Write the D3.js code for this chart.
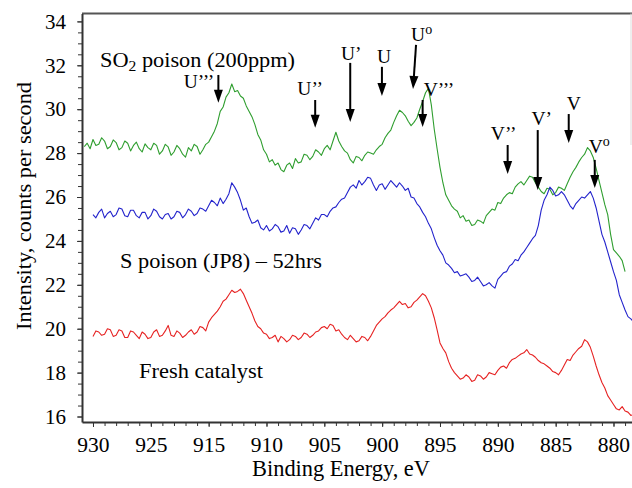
<!DOCTYPE html>
<html>
<head>
<meta charset="utf-8">
<script src="https://cdn.jsdelivr.net/npm/d3@7"></script>
<style>
  body { margin: 0; background: #fff; }
</style>
</head>
<body>
<div id="chart"></div>
<script>
const FONT = 'Liberation Serif, DejaVu Serif, serif';

// binding energy grid (eV, as plotted), 8 points per line = 2 eV
const energy = [
  926.0, 925.75, 925.5, 925.25, 925.0, 924.75, 924.5, 924.25,
  924.0, 923.75, 923.5, 923.25, 923.0, 922.75, 922.5, 922.25,
  922.0, 921.75, 921.5, 921.25, 921.0, 920.75, 920.5, 920.25,
  920.0, 919.75, 919.5, 919.25, 919.0, 918.75, 918.5, 918.25,
  918.0, 917.75, 917.5, 917.25, 917.0, 916.75, 916.5, 916.25,
  916.0, 915.75, 915.5, 915.25, 915.0, 914.75, 914.5, 914.25,
  914.0, 913.75, 913.5, 913.25, 913.0, 912.75, 912.5, 912.25,
  912.0, 911.75, 911.5, 911.25, 911.0, 910.75, 910.5, 910.25,
  910.0, 909.75, 909.5, 909.25, 909.0, 908.75, 908.5, 908.25,
  908.0, 907.75, 907.5, 907.25, 907.0, 906.75, 906.5, 906.25,
  906.0, 905.75, 905.5, 905.25, 905.0, 904.75, 904.5, 904.25,
  904.0, 903.75, 903.5, 903.25, 903.0, 902.75, 902.5, 902.25,
  902.0, 901.75, 901.5, 901.25, 901.0, 900.75, 900.5, 900.25,
  900.0, 899.75, 899.5, 899.25, 899.0, 898.75, 898.5, 898.25,
  898.0, 897.75, 897.5, 897.25, 897.0, 896.75, 896.5, 896.25,
  896.0, 895.75, 895.5, 895.25, 895.0, 894.75, 894.5, 894.25,
  894.0, 893.75, 893.5, 893.25, 893.0, 892.75, 892.5, 892.25,
  892.0, 891.75, 891.5, 891.25, 891.0, 890.75, 890.5, 890.25,
  890.0, 889.75, 889.5, 889.25, 889.0, 888.75, 888.5, 888.25,
  888.0, 887.75, 887.5, 887.25, 887.0, 886.75, 886.5, 886.25,
  886.0, 885.75, 885.5, 885.25, 885.0, 884.75, 884.5, 884.25,
  884.0, 883.75, 883.5, 883.25, 883.0, 882.75, 882.5, 882.25,
  882.0, 881.75, 881.5, 881.25, 881.0, 880.75, 880.5, 880.25,
  880.0, 879.75, 879.5, 879.25, 879.0, 878.75, 878.5, 878.25];

// SO2 poison (200ppm)
const so2Poison = [
  null, 28.30, 28.45, 28.20, 28.62, 28.35, 28.40, 28.70,
  28.55, 28.20, 28.30, 28.60, 28.48, 28.15, 28.25, 28.55,
  28.45, 28.10, 28.35, 28.50, 28.20, 28.05, 28.42, 28.25,
  28.15, 28.45, 28.35, 27.95, 28.10, 28.40, 28.28, 27.90,
  28.05, 28.35, 28.20, 27.95, 27.82, 28.25, 28.10, 28.40,
  28.30, 27.95, 28.15, 28.40, 28.50, 28.75, 29.00, 29.35,
  29.90, 30.10, 30.55, 30.75, 31.15, 30.80, 30.85, 30.60,
  30.50, 30.15, 29.90, 29.65, 29.30, 28.85, 28.60, 28.15,
  27.95, 27.60, 27.70, 27.45, 27.55, 27.25, 27.15, 27.45,
  27.55, 27.30, 27.75, 27.55, 27.60, 27.95, 27.90, 27.70,
  27.85, 28.15, 28.05, 27.90, 28.20, 28.35, 28.15, 28.55,
  28.95, 28.55, 28.30, 28.10, 28.00, 27.70, 27.55, 27.85,
  27.80, 27.65, 27.90, 28.05, 28.00, 27.95, 28.15, 28.30,
  28.40, 28.70, 28.90, 29.05, 29.40, 29.70, 29.95, 29.85,
  29.70, 29.45, 29.25, 29.40, 29.60, 30.00, 30.35, 30.75,
  30.95, 30.20, 29.10, 28.20, 27.35, 26.65, 26.10, 25.85,
  25.60, 25.45, 25.35, 25.05, 25.15, 24.90, 24.95, 24.70,
  24.75, 24.95, 24.90, 24.80, 25.15, 25.30, 25.45, 25.40,
  25.75, 25.70, 25.95, 26.10, 26.20, 26.15, 26.45, 26.60,
  26.70, 26.55, 26.75, 26.95, 26.90, 26.65, 26.45, 26.25,
  26.15, 26.40, 26.35, 26.10, 26.20, 26.45, 26.40, 26.30,
  26.60, 26.90, 27.15, 27.35, 27.60, 27.80, 27.95, 28.25,
  28.10, 27.80, 27.30, 26.75, 26.20, 25.65, 25.20, 24.30,
  23.60, 23.45, 23.30, 23.10, 22.60, null, null, null];

// S poison (JP8) - 52hrs
const sPoison = [
  null, null, null, null, 25.20, 25.05, 25.30, 25.45,
  25.05, 25.25, 25.35, 25.10, 25.20, 25.50, 25.45, 25.15,
  25.10, 25.40, 25.40, 25.15, 25.05, 25.30, 25.30, 25.00,
  25.15, 25.45, 25.35, 25.10, 25.00, 25.20, 25.25, 25.00,
  25.10, 25.35, 25.30, 25.05, 25.20, 25.45, 25.35, 25.15,
  25.25, 25.50, 25.45, 25.35, 25.60, 25.85, 25.75, 25.60,
  25.95, 25.70, 25.90, 26.15, 26.65, 26.45, 26.20, 25.85,
  25.40, 25.50, 25.10, 24.80, 24.85, 24.95, 24.60, 24.50,
  24.70, 24.45, 24.55, 24.75, 24.65, 24.40, 24.45, 24.70,
  24.35, 24.60, 24.55, 24.30, 24.50, 24.75, 24.70, 24.55,
  24.80, 25.05, 24.95, 25.20, 25.20, 25.10, 25.35, 25.50,
  25.55, 25.75, 25.90, 25.95, 26.20, 26.45, 26.55, 26.40,
  26.75, 26.55, 26.70, 26.90, 26.85, 26.55, 26.30, 26.55,
  26.60, 26.35, 26.55, 26.75, 26.60, 26.45, 26.65, 26.50,
  26.30, 26.40, 26.00, 25.95, 25.70, 25.55, 25.30, 25.10,
  24.80, 24.55, 24.15, 23.80, 23.55, 23.35, 23.00, 22.90,
  22.75, 22.55, 22.60, 22.40, 22.45, 22.50, 22.35, 22.15,
  22.20, 22.35, 22.15, 21.95, 22.00, 22.10, 21.95, 21.85,
  22.25, 22.40, 22.55, 22.60, 22.85, 22.95, 23.15, 23.10,
  23.35, 23.50, 23.70, 23.90, 24.10, 24.25, 24.70, 25.40,
  25.85, 26.10, 26.45, 26.30, 26.05, 26.10, 26.25, 26.10,
  25.85, 25.60, 25.45, 25.70, 25.85, 26.00, 25.95, 26.10,
  26.25, 25.95, 25.50, 24.90, 24.30, 23.95, 23.50, 23.05,
  22.60, 22.20, 21.55, 21.20, 20.85, 20.55, 20.45, 20.30];

// Fresh catalyst
const freshCatalyst = [
  null, null, null, null, 19.65, 19.90, 19.85, 19.70,
  19.75, 20.00, 19.95, 19.65, 19.70, 19.95, 19.90, 19.60,
  19.60, 19.90, 19.85, 19.70, 19.55, 19.85, 19.75, 19.55,
  19.60, 19.85, 19.95, 19.65, 19.70, 19.90, 20.15, 19.70,
  19.65, 19.90, 19.80, 19.60, 19.70, 19.85, 19.95, 19.75,
  19.85, 20.10, 20.05, 19.90, 20.30, 20.50, 20.65, 20.80,
  21.00, 21.25, 21.35, 21.55, 21.75, 21.65, 21.70, 21.80,
  21.60, 21.30, 21.00, 20.70, 20.35, 20.10, 20.00, 19.80,
  19.75, 19.55, 19.60, 19.70, 19.40, 19.65, 19.55, 19.40,
  19.50, 19.70, 19.65, 19.50, 19.60, 19.80, 19.75, 19.60,
  19.70, 19.85, 19.90, 20.05, 20.10, 20.00, 20.20, 20.15,
  19.90, 19.95, 19.75, 19.60, 19.50, 19.70, 19.55, 19.40,
  19.45, 19.65, 19.60, 19.45, 19.65, 19.90, 20.15, 20.30,
  20.45, 20.55, 20.72, 20.85, 20.95, 21.10, 21.25, 21.10,
  21.15, 20.95, 21.00, 21.20, 21.30, 21.45, 21.60, 21.50,
  21.25, 20.95, 20.50, 19.95, 19.35, 19.10, 18.90, 18.50,
  18.20, 18.00, 17.85, 17.70, 17.75, 17.90, 17.80, 17.60,
  17.65, 17.90, 17.85, 17.70, 17.80, 18.00, 17.95, 17.90,
  18.10, 18.25, 18.30, 18.20, 18.45, 18.60, 18.65, 18.75,
  18.85, 18.90, 19.05, 18.85, 18.80, 18.70, 18.55, 18.45,
  18.40, 18.30, 18.20, 18.05, 18.00, 17.90, 18.10, 18.35,
  18.60, 18.55, 18.80, 18.95, 19.10, 19.20, 19.50, 19.40,
  19.15, 18.75, 18.30, 17.90, 17.55, 17.30, 16.95, 16.75,
  16.55, 16.35, 16.30, 16.45, 16.25, 16.20, 16.05, 16.10];

// axis ticks (labels as printed on the original figure)
const xTickValues = [925, 920, 915, 910, 905, 900, 895, 890, 885, 880];
const xTickLabels = ['930', '925', '915', '910', '905', '900', '895', '890', '885', '880'];
const yTickValues = [16, 18, 20, 22, 24, 26, 28, 30, 32, 34];

// peak assignments: label, energy of arrow, arrow top / tip intensity
const peakLabels = ['U’’’', 'U’’', 'U’', 'U', 'U', 'V’’’', 'V’’', 'V’', 'V', 'V'];
const peakSup = ['', '', '', '', 'o', '', '', '', '', 'o'];
const peakTopEnergy = [914.16, 905.79, 902.76, 900.02, 897.07, 896.50, 889.15, 886.55, 883.87, 881.62];
const peakTipEnergy = [914.16, 905.79, 902.76, 900.02, 897.33, 896.50, 889.15, 886.55, 883.87, 881.62];
const peakTop = [31.56, 30.42, 32.11, 31.93, 32.93, 30.42, 28.37, 29.05, 29.78, 27.69];
const peakTip = [30.29, 29.15, 29.42, 30.60, 30.92, 29.19, 27.05, 26.32, 28.46, 26.41];

const width = 632, height = 488;
const svg = d3.select('#chart').append('svg')
  .attr('width', width)
  .attr('height', height)
  .attr('font-family', FONT);

const x = d3.scaleLinear().domain([925.95, 878.4]).range([82, 632]);
const y = d3.scaleLinear().domain([15.75, 34.36]).range([422, 13.5]);

// frame (top edge, faint right edge as in the scan)
svg.append('line')
  .attr('x1', 82).attr('x2', 632).attr('y1', 13.5).attr('y2', 13.5)
  .attr('stroke', '#555').attr('stroke-width', 2);
svg.append('line')
  .attr('x1', 631).attr('x2', 631).attr('y1', 13.5).attr('y2', 145)
  .attr('stroke', '#ddd').attr('stroke-width', 1);

// x axis: minor then major
const xMinor = d3.range(926, 878, -1).filter(d => d <= 925.95 && d >= 878.4);
svg.append('g')
  .attr('transform', 'translate(0,422)')
  .call(d3.axisBottom(x).tickValues(xMinor).tickSize(4).tickSizeOuter(0).tickFormat(''))
  .call(g => g.select('.domain').attr('stroke', '#333').attr('stroke-width', 2));
svg.append('g')
  .attr('transform', 'translate(0,422)')
  .call(d3.axisBottom(x).tickValues(xTickValues).tickSize(5).tickPadding(10)
    .tickFormat((d, i) => xTickLabels[i]))
  .call(g => g.select('.domain').remove())
  .call(g => g.selectAll('text').style('font-size', '21.5px'));

// y axis
const yMinor = d3.range(16, 34.5, 0.5);
svg.append('g')
  .attr('transform', 'translate(82,0)')
  .call(d3.axisLeft(y).tickValues(yMinor).tickSize(4).tickSizeOuter(0).tickFormat(''))
  .call(g => g.select('.domain').attr('stroke', '#333').attr('stroke-width', 2));
svg.append('g')
  .attr('transform', 'translate(82,0)')
  .call(d3.axisLeft(y).tickValues(yTickValues).tickSize(5).tickPadding(11))
  .call(g => g.select('.domain').remove())
  .call(g => g.selectAll('text').style('font-size', '21px'));

svg.selectAll('g').attr('font-family', null);
svg.selectAll('.tick line').attr('stroke', '#333');

// spectra
const series = [
  { values: so2Poison, color: '#2f9e2f' },
  { values: sPoison, color: '#2323cc' },
  { values: freshCatalyst, color: '#e62222' }
];
const line = d3.line()
  .defined(d => d[1] != null)
  .x(d => x(d[0]))
  .y(d => y(d[1]));

svg.selectAll('path.spectrum')
  .data(series)
  .enter()
  .append('path')
  .attr('class', 'spectrum')
  .attr('d', s => line(energy.map((e, i) => [e, s.values[i]])))
  .attr('fill', 'none')
  .attr('stroke', s => s.color)
  .attr('stroke-width', 1.1)
  .attr('stroke-linejoin', 'round');

// series labels
const so2 = svg.append('text').attr('x', 100).attr('y', 67)
  .attr('textLength', 195).attr('lengthAdjust', 'spacingAndGlyphs')
  .style('font-size', '20px');
so2.append('tspan').text('SO');
so2.append('tspan').attr('dy', 4).style('font-size', '14px').text('2');
so2.append('tspan').attr('dy', -4).text(' poison (200ppm)');

svg.append('text').attr('x', 120).attr('y', 268)
  .attr('textLength', 202).attr('lengthAdjust', 'spacingAndGlyphs')
  .style('font-size', '21px')
  .text('S poison (JP8) – 52hrs');
svg.append('text').attr('x', 139).attr('y', 378)
  .attr('textLength', 124).attr('lengthAdjust', 'spacingAndGlyphs')
  .style('font-size', '21px')
  .text('Fresh catalyst');

// arrows
const headLen = 13, headHalf = 4.5;
peakLabels.forEach((lab, i) => {
  const x1 = x(peakTopEnergy[i]), y1 = y(peakTop[i]);
  const x2 = x(peakTipEnergy[i]), y2 = y(peakTip[i]);
  const len = Math.hypot(x2 - x1, y2 - y1);
  const ux = (x2 - x1) / len, uy = (y2 - y1) / len;
  const bx = x2 - ux * headLen, by = y2 - uy * headLen;
  svg.append('line')
    .attr('x1', x1).attr('y1', y1)
    .attr('x2', bx + ux * 2).attr('y2', by + uy * 2)
    .attr('stroke', '#000').attr('stroke-width', 2);
  svg.append('path')
    .attr('d', `M${x2},${y2}L${bx - uy * headHalf},${by + ux * headHalf}L${bx + uy * headHalf},${by - ux * headHalf}Z`)
    .attr('fill', '#000');
});

// arrow labels: anchor, dx from arrow, baseline offset from arrow top
const labelAnchor = ['end', 'middle', 'middle', 'middle', 'start', 'start', 'middle', 'middle', 'middle', 'start'];
const labelDx = [-4, -5, 1, 2, -5, 1, -4, 4, 5, -6];
const labelDy = [13, -5, -3, -4, -4, -4, -5, -5, -4, -7];
peakLabels.forEach((lab, i) => {
  const t = svg.append('text')
    .attr('x', x(peakTopEnergy[i]) + labelDx[i])
    .attr('y', y(peakTop[i]) + labelDy[i])
    .attr('text-anchor', labelAnchor[i])
    .style('font-size', '19.5px');
  t.append('tspan').text(lab);
  if (peakSup[i]) {
    t.append('tspan').attr('dy', -7).style('font-size', '14px').text(peakSup[i]);
  }
});

// axis titles
svg.append('text')
  .attr('transform', 'translate(31,206) rotate(-90)')
  .attr('text-anchor', 'middle')
  .attr('textLength', 248).attr('lengthAdjust', 'spacingAndGlyphs')
  .style('font-size', '22px')
  .text('Intensity, counts per second');
svg.append('text')
  .attr('x', 341).attr('y', 476)
  .attr('text-anchor', 'middle')
  .attr('textLength', 178).attr('lengthAdjust', 'spacingAndGlyphs')
  .style('font-size', '23px')
  .text('Binding Energy, eV');

svg.selectAll('text').attr('font-family', FONT).style('font-family', FONT).attr('fill', '#000');
</script>
</body>
</html>
